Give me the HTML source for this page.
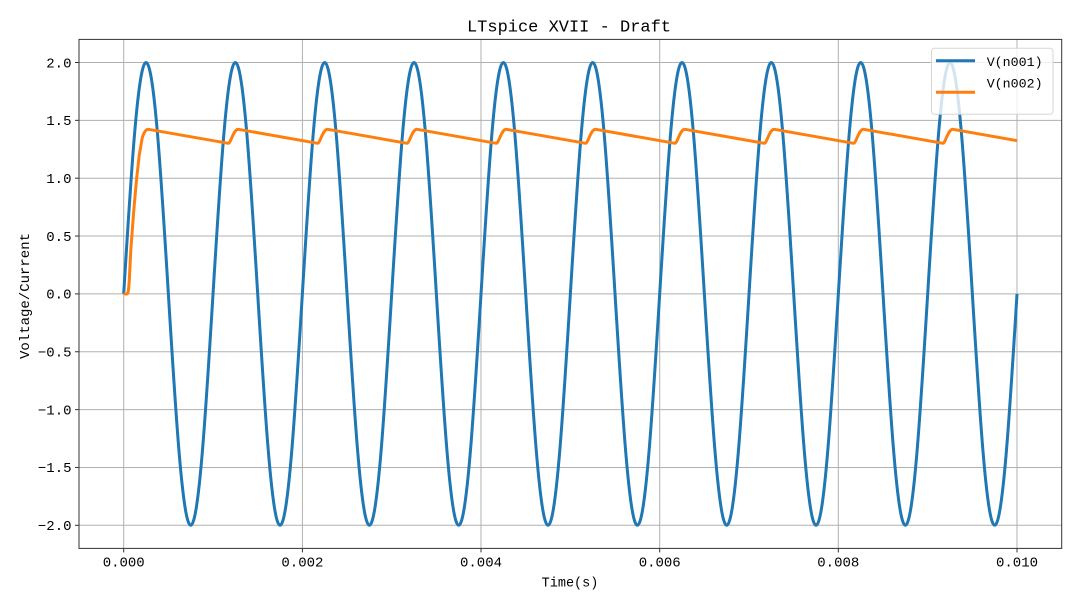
<!DOCTYPE html>
<html>
<head>
<meta charset="utf-8">
<style>
  html, body { margin: 0; padding: 0; background: #ffffff; }
  svg { display: block; }
  text { font-family: "Liberation Mono", "DejaVu Sans Mono", monospace; fill: #000; }
</style>
</head>
<body>
<svg width="1080" height="607" viewBox="0 0 1080 607" xmlns="http://www.w3.org/2000/svg">
  <rect x="0" y="0" width="1080" height="607" fill="#ffffff"/>

  <!-- grid -->
  <g stroke="#b0b0b0" stroke-width="1" fill="none">
    <line x1="123.7" y1="39.4" x2="123.7" y2="548.4"/>
    <line x1="302.4" y1="39.4" x2="302.4" y2="548.4"/>
    <line x1="481.0" y1="39.4" x2="481.0" y2="548.4"/>
    <line x1="659.7" y1="39.4" x2="659.7" y2="548.4"/>
    <line x1="838.3" y1="39.4" x2="838.3" y2="548.4"/>
    <line x1="1017.0" y1="39.4" x2="1017.0" y2="548.4"/>
    <line x1="79" y1="62.5" x2="1061.7" y2="62.5"/>
    <line x1="79" y1="120.35" x2="1061.7" y2="120.35"/>
    <line x1="79" y1="178.2" x2="1061.7" y2="178.2"/>
    <line x1="79" y1="236.05" x2="1061.7" y2="236.05"/>
    <line x1="79" y1="293.9" x2="1061.7" y2="293.9"/>
    <line x1="79" y1="351.75" x2="1061.7" y2="351.75"/>
    <line x1="79" y1="409.6" x2="1061.7" y2="409.6"/>
    <line x1="79" y1="467.45" x2="1061.7" y2="467.45"/>
    <line x1="79" y1="525.3" x2="1061.7" y2="525.3"/>
  </g>

  <!-- V(n001) sine -->
  <path fill="none" stroke="#1f77b4" stroke-width="3" stroke-linejoin="round" stroke-linecap="butt"
    d="M123.7,293.9
    c7.284,-118.54 14.251,-231.4 22.333,-231.4 c8.082,0 15.049,112.86 22.333,231.4 c7.284,118.54 14.251,231.4 22.333,231.4 c8.082,0 15.049,-112.86 22.333,-231.4
    c7.284,-118.54 14.251,-231.4 22.333,-231.4 c8.082,0 15.049,112.86 22.333,231.4 c7.284,118.54 14.251,231.4 22.333,231.4 c8.082,0 15.049,-112.86 22.333,-231.4
    c7.284,-118.54 14.251,-231.4 22.333,-231.4 c8.082,0 15.049,112.86 22.333,231.4 c7.284,118.54 14.251,231.4 22.333,231.4 c8.082,0 15.049,-112.86 22.333,-231.4
    c7.284,-118.54 14.251,-231.4 22.333,-231.4 c8.082,0 15.049,112.86 22.333,231.4 c7.284,118.54 14.251,231.4 22.333,231.4 c8.082,0 15.049,-112.86 22.333,-231.4
    c7.284,-118.54 14.251,-231.4 22.333,-231.4 c8.082,0 15.049,112.86 22.333,231.4 c7.284,118.54 14.251,231.4 22.333,231.4 c8.082,0 15.049,-112.86 22.333,-231.4
    c7.284,-118.54 14.251,-231.4 22.333,-231.4 c8.082,0 15.049,112.86 22.333,231.4 c7.284,118.54 14.251,231.4 22.333,231.4 c8.082,0 15.049,-112.86 22.333,-231.4
    c7.284,-118.54 14.251,-231.4 22.333,-231.4 c8.082,0 15.049,112.86 22.333,231.4 c7.284,118.54 14.251,231.4 22.333,231.4 c8.082,0 15.049,-112.86 22.333,-231.4
    c7.284,-118.54 14.251,-231.4 22.333,-231.4 c8.082,0 15.049,112.86 22.333,231.4 c7.284,118.54 14.251,231.4 22.333,231.4 c8.082,0 15.049,-112.86 22.333,-231.4
    c7.284,-118.54 14.251,-231.4 22.333,-231.4 c8.082,0 15.049,112.86 22.333,231.4 c7.284,118.54 14.251,231.4 22.333,231.4 c8.082,0 15.049,-112.86 22.333,-231.4
    c7.284,-118.54 14.251,-231.4 22.333,-231.4 c8.082,0 15.049,112.86 22.333,231.4 c7.284,118.54 14.251,231.4 22.333,231.4 c8.082,0 15.049,-112.86 22.333,-231.4"/>

  <!-- V(n002) rectified -->
  <path fill="none" stroke="#ff7f0e" stroke-width="3" stroke-linejoin="round" stroke-linecap="butt"
    d="M123.7,293.9 L127,293.9 C128,293.9 128.6,291 129.3,280 L130.8,250 L133.65,212 L136.5,179.7 L139.3,154.8 L142.2,138.0 C144,132 146,129.3 148.3,129.3
    L228.3,143.3 c2.5,0.2 5,-14 10,-14
    L317.6,143.3 c2.5,0.2 5,-14 10,-14
    L407.0,143.3 c2.5,0.2 5,-14 10,-14
    L496.3,143.3 c2.5,0.2 5,-14 10,-14
    L585.6,143.3 c2.5,0.2 5,-14 10,-14
    L674.9,143.3 c2.5,0.2 5,-14 10,-14
    L764.3,143.3 c2.5,0.2 5,-14 10,-14
    L853.6,143.3 c2.5,0.2 5,-14 10,-14
    L942.9,143.3 c2.5,0.2 5,-14 10,-14
    L1017,140.7"/>

  <!-- axes frame -->
  <rect x="79" y="39.4" width="982.7" height="509" fill="none" stroke="#333333" stroke-width="1"/>

  <!-- ticks -->
  <g stroke="#333333" stroke-width="1">
    <line x1="123.7" y1="548.4" x2="123.7" y2="552.4"/>
    <line x1="302.4" y1="548.4" x2="302.4" y2="552.4"/>
    <line x1="481.0" y1="548.4" x2="481.0" y2="552.4"/>
    <line x1="659.7" y1="548.4" x2="659.7" y2="552.4"/>
    <line x1="838.3" y1="548.4" x2="838.3" y2="552.4"/>
    <line x1="1017.0" y1="548.4" x2="1017.0" y2="552.4"/>
    <line x1="75" y1="62.5" x2="79" y2="62.5"/>
    <line x1="75" y1="120.35" x2="79" y2="120.35"/>
    <line x1="75" y1="178.2" x2="79" y2="178.2"/>
    <line x1="75" y1="236.05" x2="79" y2="236.05"/>
    <line x1="75" y1="293.9" x2="79" y2="293.9"/>
    <line x1="75" y1="351.75" x2="79" y2="351.75"/>
    <line x1="75" y1="409.6" x2="79" y2="409.6"/>
    <line x1="75" y1="467.45" x2="79" y2="467.45"/>
    <line x1="75" y1="525.3" x2="79" y2="525.3"/>
  </g>

  <!-- x tick labels -->
  <g font-size="14" text-anchor="middle">
    <text x="123.7" y="566.7">0.000</text>
    <text x="302.4" y="566.7">0.002</text>
    <text x="481.0" y="566.7">0.004</text>
    <text x="659.7" y="566.7">0.006</text>
    <text x="838.3" y="566.7">0.008</text>
    <text x="1017.0" y="566.7">0.010</text>
  </g>

  <!-- y tick labels -->
  <g font-size="14" text-anchor="end">
    <text x="71.5" y="67.3">2.0</text>
    <text x="71.5" y="125.1">1.5</text>
    <text x="71.5" y="183.0">1.0</text>
    <text x="71.5" y="240.8">0.5</text>
    <text x="71.5" y="298.7">0.0</text>
    <text x="71.5" y="356.5">−0.5</text>
    <text x="71.5" y="414.4">−1.0</text>
    <text x="71.5" y="472.2">−1.5</text>
    <text x="71.5" y="530.1">−2.0</text>
  </g>

  <!-- axis labels and title -->
  <text x="570" y="586.7" font-size="13.5" text-anchor="middle">Time(s)</text>
  <text transform="translate(29,296) rotate(-90)" font-size="14" text-anchor="middle">Voltage/Current</text>
  <text x="569" y="31.7" font-size="17" text-anchor="middle">LTspice XVII - Draft</text>

  <!-- legend -->
  <rect x="931.5" y="48.3" width="121.5" height="66" rx="3" ry="3" fill="#ffffff" fill-opacity="0.8" stroke="#d6d6d6" stroke-width="1"/>
  <line x1="936" y1="60.7" x2="975" y2="60.7" stroke="#1f77b4" stroke-width="3"/>
  <line x1="936" y1="92.3" x2="975" y2="92.3" stroke="#ff7f0e" stroke-width="3"/>
  <text x="986.7" y="66" font-size="13.3">V(n001)</text>
  <text x="986.7" y="87.3" font-size="13.3">V(n002)</text>
</svg>
</body>
</html>
